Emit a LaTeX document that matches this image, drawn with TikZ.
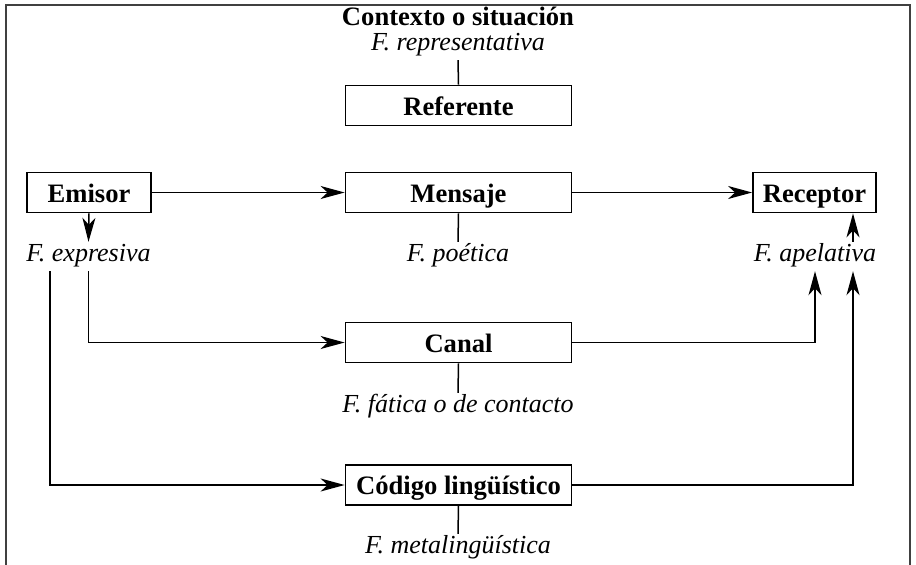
\documentclass[tikz,border=0pt]{standalone}
\usepackage{fontspec}
\setmainfont{Liberation Serif}
\usetikzlibrary{arrows.meta}
\begin{document}
\begin{tikzpicture}[x=1pt,y=-1pt,
  box/.style={draw,line width=1.8pt,minimum width=226pt,minimum height=40pt,inner sep=0pt,
    font=\fontsize{26.6}{30}\selectfont\bfseries,text height=19pt,text depth=0pt},
  lbl/.style={inner sep=1pt,anchor=base,font=\fontsize{26}{30}\selectfont\itshape,text height=18pt,text depth=9pt},
  ttl/.style={inner sep=0pt,anchor=base,font=\fontsize{26.6}{30}\selectfont\bfseries},
  con/.style={line width=1.5pt},
  arr/.style={con,-{Stealth[length=24pt,width=13pt,inset=7pt]}}]
\useasboundingbox (0,0) rectangle (916,565);
\draw[line width=2pt,black!75] (6,566) -- (6,5) -- (910,5) -- (910,566);
% nodes
\node[ttl] (ctx) at (458,25) {Contexto o situación};
\node[lbl,text height=16pt] (frep) at (458,50) {F. representativa};
\node[box] (ref) at (458.5,105.5) {Referente};
\node[box,minimum width=124pt] (emi) at (89,192.5) {Emisor};
\node[box] (men) at (458.5,192.5) {Mensaje};
\node[box,minimum width=123pt] (rec) at (814.5,192.5) {Receptor};
\node[lbl] (fexp) at (88.5,261) {F. expresiva};
\node[lbl] (fpoe) at (458,261) {F. poética};
\node[lbl] (fape) at (815,261) {F. apelativa};
\node[box] (can) at (458.5,342.5) {Canal};
\node[lbl] (ffat) at (458,412) {F. fática o de contacto};
\node[box] (cod) at (458.5,485) {Código lingüístico};
\node[lbl] (fmet) at (458,553) {F. metalingüística};
\coordinate (lx) at (50,0);
\coordinate (rx) at (853,0);
% connectors
\draw[con] (frep.south) -- (ref.north);
\draw[arr] (emi.south) -- (fexp.north);
\draw[arr] (emi.east) -- (men.west);
\draw[arr] (men.east) -- (rec.west);
\draw[con] (men.south) -- (fpoe.north);
\draw[arr] (fape.north -| rx) -- (rec.south -| rx);
\draw[arr] (fexp.south) |- (can.west);
\draw[arr] (fexp.south -| lx) |- (cod.west);
\draw[arr] (can.east) -| (fape.south);
\draw[arr] (cod.east) -| (fape.south -| rx);
\draw[con] (can.south) -- (ffat.north);
\draw[con] (cod.south) -- (fmet.north);
\end{tikzpicture}
\end{document}
